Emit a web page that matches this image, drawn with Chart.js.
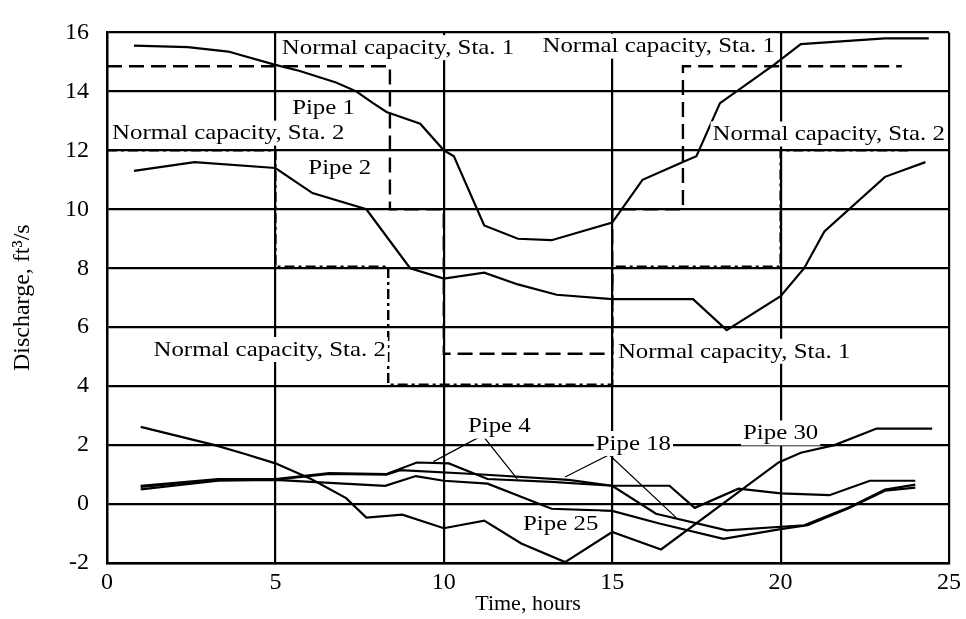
<!DOCTYPE html>
<html>
<head>
<meta charset="utf-8">
<script src="https://cdn.jsdelivr.net/npm/chart.js@4.4.0/dist/chart.umd.min.js"></script>
<style>
  body { margin: 0; background: #fff; }
  canvas { display: block; }
</style>
</head>
<body>
<canvas id="dischargeChart" width="966" height="619"></canvas>
<script>
// Discharge through the main pipes and the station capacities over a day

const pipe1Time = [0.8, 2.4, 3.6, 5, 5.7, 6.8, 7.4, 7.9, 8.3, 9.3, 10, 10.3, 11.2, 12.2, 13.2, 15, 15.9, 17.1, 17.5, 18.2, 19.8, 20.6, 23.1, 24.4];
const pipe1Flow = [15.55, 15.5, 15.35, 14.9, 14.7, 14.3, 14.0, 13.6, 13.3, 12.9, 12.0, 11.8, 9.45, 9.0, 8.95, 9.55, 11.0, 11.6, 11.8, 13.6, 14.9, 15.6, 15.8, 15.8];

const pipe2Time = [0.8, 2.6, 5, 6.1, 7.7, 9.0, 10, 11.2, 12.2, 13.35, 15, 17.4, 18.4, 20, 20.7, 21.3, 23.1, 24.3];
const pipe2Flow = [11.3, 11.6, 11.4, 10.55, 10.0, 8.0, 7.65, 7.85, 7.45, 7.1, 6.95, 6.95, 5.9, 7.05, 8.0, 9.25, 11.1, 11.6];

const pipe4Time = [1.0, 3.3, 5, 6.6, 8.3, 9.2, 10.15, 11.3, 13.2, 15, 16.7, 17.45, 18.75, 20, 21.45, 22.65, 24.0];
const pipe4Flow = [0.62, 0.85, 0.85, 1.05, 1.02, 1.41, 1.38, 0.85, 0.75, 0.62, 0.62, -0.13, 0.52, 0.36, 0.3, 0.79, 0.79];

const pipe18Time = [1.0, 3.3, 5, 6.6, 8.3, 8.7, 10.9, 13.7, 15, 16.3, 18.4, 20.7, 22.0, 23.1, 24.0];
const pipe18Flow = [0.58, 0.82, 0.83, 1.02, 1.0, 1.15, 1.02, 0.82, 0.62, -0.33, -0.89, -0.72, -0.13, 0.49, 0.66];

const pipe25Time = [1.0, 3.3, 5, 6.06, 8.26, 9.17, 10, 11.3, 13.2, 15, 16.4, 18.3, 20, 20.8, 22.0, 23.1, 24.0];
const pipe25Flow = [0.5, 0.79, 0.82, 0.75, 0.62, 0.95, 0.79, 0.69, -0.16, -0.23, -0.66, -1.18, -0.85, -0.72, -0.15, 0.45, 0.56];

const pipe30Time = [1.0, 3.2, 4.1, 5, 6.06, 7.1, 7.7, 8.77, 10, 11.2, 12.3, 13.6, 15, 16.45, 19.94, 20.6, 21.6, 22.85, 24.5];
const pipe30Flow = [2.62, 2.0, 1.7, 1.38, 0.85, 0.2, -0.46, -0.36, -0.82, -0.56, -1.34, -1.97, -0.95, -1.54, 1.41, 1.74, 2.0, 2.56, 2.56];

// station limits, stepped
const sta1Time = [0, 8.4, 8.4, 10, 10, 15, 15, 17.1, 17.1, 23.6];
const sta1Flow = [14.85, 14.85, 10, 10, 5.1, 5.1, 10, 10, 14.85, 14.85];
const sta2Time = [0, 5, 5, 8.35, 8.35, 15, 15, 20, 20, 23.9];
const sta2Flow = [12, 12, 8.05, 8.05, 4.05, 4.05, 8.05, 8.05, 12, 12];

// leader lines under the pipe names
const pipe4LeaderTime = [9.69, 11.15, 12.18];
const pipe4LeaderFlow = [1.44, 2.33, 0.85];
const pipe18LeaderTime = [13.6, 14.91, 16.9];
const pipe18LeaderFlow = [0.92, 1.67, -0.46];

const SERIF = '"Liberation Serif", "Times New Roman", serif';
const STRETCH = 1.13;

const chartLabels = [
  { text: 'Normal capacity, Sta. 1', time: 8.64, flow: 15.5 },
  { text: 'Normal capacity, Sta. 1', time: 16.38, flow: 15.55 },
  { text: 'Pipe 1', time: 6.43, flow: 13.46 },
  { text: 'Normal capacity, Sta. 2', time: 0.15, flow: 12.6, align: 'left' },
  { text: 'Pipe 2', time: 6.91, flow: 11.41 },
  { text: 'Normal capacity, Sta. 2', time: 21.43, flow: 12.57 },
  { text: 'Normal capacity, Sta. 2', time: 8.28, flow: 5.26, align: 'right' },
  { text: 'Normal capacity, Sta. 1', time: 18.62, flow: 5.2 },
  { text: 'Pipe 4', time: 11.65, flow: 2.66 },
  { text: 'Pipe 18', time: 15.63, flow: 2.07 },
  { text: 'Pipe 30', time: 20, flow: 2.43 },
  { text: 'Pipe 25', time: 13.47, flow: -0.66 }
];

function points(times, flows) {
  return times.map((t, i) => ({ x: t, y: flows[i] }));
}

function series(label, times, flows, extra) {
  return Object.assign({
    label: label,
    data: points(times, flows),
    borderColor: '#000',
    borderWidth: 2.2,
    pointRadius: 0,
    tension: 0,
    fill: false
  }, extra || {});
}

// white-boxed text placed in data coordinates
const labelPlugin = {
  id: 'pipeLabels',
  afterDatasetsDraw(chart) {
    const { ctx, scales: { x, y } } = chart;
    ctx.save();
    ctx.font = '22px ' + SERIF;
    ctx.textBaseline = 'middle';
    ctx.textAlign = 'left';
    chartLabels.forEach(l => {
      const w = ctx.measureText(l.text).width * STRETCH;
      const px = x.getPixelForValue(l.time);
      const py = y.getPixelForValue(l.flow);
      let left = px - w / 2;
      if (l.align === 'left') left = px;
      if (l.align === 'right') left = px - w;
      ctx.fillStyle = '#fff';
      ctx.fillRect(left - 2, py - 12, w + 4, 25);
      ctx.fillStyle = '#000';
      ctx.save();
      ctx.translate(left, py + 1);
      ctx.scale(STRETCH, 1);
      ctx.fillText(l.text, 0, 0);
      ctx.restore();
    });
    ctx.restore();
  }
};

const ctx = document.getElementById('dischargeChart').getContext('2d');

const dischargeChart = new Chart(ctx, {
  type: 'line',
  data: {
    datasets: [
      series('Normal capacity, Sta. 1', sta1Time, sta1Flow, { borderDash: [15, 7], borderWidth: 2.4 }),
      series('Normal capacity, Sta. 2', sta2Time, sta2Flow, { borderDash: [10, 4, 3, 4], borderWidth: 2.4 }),
      series('Pipe 1', pipe1Time, pipe1Flow),
      series('Pipe 2', pipe2Time, pipe2Flow),
      series('Pipe 4', pipe4Time, pipe4Flow),
      series('Pipe 18', pipe18Time, pipe18Flow),
      series('Pipe 25', pipe25Time, pipe25Flow),
      series('Pipe 30', pipe30Time, pipe30Flow),
      series('Pipe 4 leader', pipe4LeaderTime, pipe4LeaderFlow, { borderWidth: 1.2 }),
      series('Pipe 18 leader', pipe18LeaderTime, pipe18LeaderFlow, { borderWidth: 1.2 })
    ]
  },
  options: {
    responsive: false,
    animation: false,
    layout: { padding: { top: 15, right: 13, left: 0, bottom: 0 } },
    plugins: {
      legend: { display: false },
      tooltip: { enabled: false }
    },
    scales: {
      x: {
        type: 'linear',
        min: 0,
        max: 25,
        ticks: { stepSize: 5, color: '#000', padding: 5, font: { family: SERIF, size: 24 } },
        grid: { color: '#000', lineWidth: 2.2, drawTicks: false },
        border: { color: '#000', width: 2.4 },
        title: { display: true, text: 'Time, hours', color: '#000', padding: { top: 0, bottom: 2 }, font: { family: SERIF, size: 22 } },
        afterFit(scale) { scale.height = 56; }
      },
      y: {
        min: -2,
        max: 16,
        ticks: { stepSize: 2, color: '#000', padding: 18, font: { family: SERIF, size: 24 } },
        grid: { color: '#000', lineWidth: 2.2, drawTicks: false },
        border: { color: '#000', width: 2.4 },
        title: { display: true, text: 'Discharge, ft³/s', color: '#000', padding: { top: 8, bottom: 0 }, font: { family: SERIF, size: 24 } },
        afterFit(scale) { scale.width = 107; }
      }
    }
  },
  plugins: [labelPlugin]
});
</script>
</body>
</html>
